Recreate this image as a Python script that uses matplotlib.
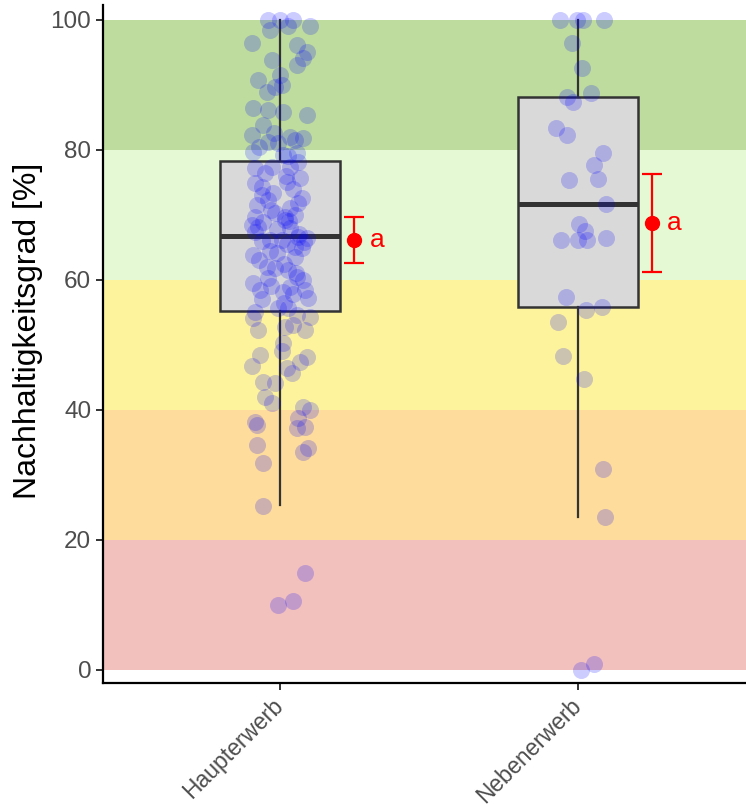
import matplotlib
matplotlib.use("Agg")
import matplotlib.pyplot as plt
import matplotlib.transforms as mtransforms
import numpy as np

plt.rcParams['font.family'] = ['Liberation Sans', 'DejaVu Sans']

categories = ["Haupterwerb", "Nebenerwerb"]

# box statistics (whisker low, Q1, median, Q3, whisker high)
box_low = [25.4, 23.5]
box_q1 = [55.3, 55.8]
box_med = [66.8, 71.7]
box_q3 = [78.3, 88.2]
box_high = [100.0, 100.0]

# mean and error bar limits
means = [66.2, 68.8]
err_low = [62.6, 61.2]
err_high = [69.7, 76.3]
letters = ["a", "a"]

# rating bands (lower, upper, colour)
band_low = [0, 20, 40, 60, 80]
band_high = [20, 40, 60, 80, 100]
band_colors = ["#F2C1BE", "#FEDC9C", "#FEF39D", "#E6F9D5", "#BEDC9E"]

# individual observations (value, horizontal jitter)
haupt_values = [100, 100, 100, 98.5, 99, 99, 96.5, 96.2, 95, 94.2, 93.8, 93, 91.5, 90.8, 88.9, 89.7, 90,
                86.5, 86.2, 85.8, 85.4, 83.8, 82.3, 81.2, 82, 81.8, 81, 79.7, 79.5, 79, 77.2, 77.4, 77.4,
                75.7, 74.9, 75, 74.3, 73.4, 72.6, 71.5, 72.3, 71.1, 70.3, 69.7, 69.7,
                68.5, 68.9, 69.2, 68, 67.4, 66.6, 66.5, 66.2, 66.2, 63.8, 65.1, 64.9, 64.2, 62, 61.5, 61.8,
                60, 60.3, 59.5, 60.5, 58.5, 58.2, 58.9, 58.5, 57.2, 55.7, 55.1, 55.7, 54.6, 54.3, 54.2,
                52.3, 52.8, 53, 52.3, 50.3, 49, 48.5, 48.2, 46.7, 47.4, 46.5, 45.7, 44.3, 44.1, 42, 41.1,
                40.5, 40, 38.8, 38.2, 37.7, 37.2, 37.4, 34.6, 33.5, 34.2, 31.8, 25.2, 14.9, 10.6, 10.0,
                # partly hidden points in the dense middle
                82.6, 81.5, 80.4, 79.2, 78.1, 76.5, 76.0, 74.0, 73.0, 71.8, 70.8, 69.0, 68.2, 67.0,
                66.0, 65.5, 64.5, 63.5, 63.0, 62.5, 61.0, 59.0, 57.8, 57.0, 56.5, 70.0, 67.8, 65.8]
haupt_jitter = [-0.04, 0.0, 0.044, -0.034, 0.027, 0.1, -0.094, 0.057, 0.09, 0.077, -0.027, 0.057, 0.0,
                -0.074, -0.044, -0.017, 0.007, -0.09, -0.04, 0.01, 0.09, -0.057, -0.094, -0.04, 0.034,
                0.077, -0.007, -0.09, 0.057, 0.027, -0.084, -0.027, 0.034, 0.067, -0.084, 0.023, -0.06,
                -0.023, 0.074, -0.077, -0.04, 0.034, -0.017, -0.084, 0.017,
                -0.094, -0.057, 0.017, 0.034, -0.084, 0.06, 0.09, -0.034, 0.007, -0.09, 0.05, 0.074,
                -0.01, -0.044, 0.027, -0.017, 0.077, -0.04, -0.09, 0.057, -0.067, 0.01, 0.034, 0.084,
                0.094, -0.007, -0.084, 0.027, 0.057, 0.1, -0.09,
                -0.074, 0.017, 0.044, 0.084, 0.01, 0.007, -0.067, 0.09, -0.094, 0.067, 0.023, 0.04,
                -0.057, -0.017, -0.05, -0.027, 0.077, 0.1, 0.06, -0.084, -0.077, 0.057, 0.084, -0.077,
                0.077, 0.094, -0.057, -0.057, 0.084, 0.044, -0.007,
                -0.02, 0.05, -0.07, 0.01, 0.06, -0.05, 0.02, 0.045, -0.06, 0.06, -0.03, 0.03, -0.075,
                0.065, -0.06, 0.025, -0.035, 0.05, -0.07, 0.015, 0.055, -0.03, 0.045, -0.06, 0.015,
                0.05, -0.01, 0.08]
neben_values = [100, 100, 100, 100, 96.5, 92.6, 88.8, 88.2, 87.4, 83.4, 82.3, 79.5, 77.7, 75.5, 75.4,
                71.7, 68.6, 67.5, 66.2, 66.2, 66.2, 66.5, 57.4, 55.4, 55.8, 53.5, 48.3, 44.8, 30.9, 23.5,
                0.0, 0.9]
neben_jitter = [-0.06, -0.003, 0.017, 0.087, -0.02, 0.013, 0.044, -0.037, -0.017, -0.074, -0.037, 0.084,
                0.054, 0.067, -0.03, 0.094, 0.003, 0.023, -0.057, 0.0, 0.03, 0.094, -0.04, 0.027, 0.081,
                -0.067, -0.05, 0.02, 0.084, 0.091, 0.01, 0.054]

fig = plt.figure(figsize=(7.46, 8.07), dpi=100)
ax = fig.add_axes([103 / 746, 124 / 807, 643 / 746, 678 / 807])

ax.set_xlim(0.406, 2.564)
ax.set_ylim(-2, 102.3)

for lo, hi, c in zip(band_low, band_high, band_colors):
    ax.axhspan(lo, hi, color=c, lw=0, zorder=0)

positions = np.arange(1, len(categories) + 1)
stats = []
for i, name in enumerate(categories):
    stats.append(dict(label=name, whislo=box_low[i], q1=box_q1[i], med=box_med[i],
                      q3=box_q3[i], whishi=box_high[i], fliers=[]))
ax.bxp(stats, positions=positions, widths=0.4, showfliers=False, showcaps=False,
       patch_artist=True,
       boxprops=dict(facecolor="#D9D9D9", edgecolor="#333333", linewidth=1.8),
       medianprops=dict(color="#333333", linewidth=3.6),
       whiskerprops=dict(color="#333333", linewidth=1.6), zorder=2)

for pos, vals, jit in [(1, haupt_values, haupt_jitter), (2, neben_values, neben_jitter)]:
    ax.scatter(pos + np.array(jit), vals, s=150, color="#0000FF", alpha=0.2, lw=0, zorder=3)

mean_x = positions + 0.25
ax.errorbar(mean_x, means,
            yerr=[np.array(means) - np.array(err_low), np.array(err_high) - np.array(means)],
            fmt="o", color="#FF0000", ms=10, elinewidth=1.6, capsize=7, capthick=1.6, zorder=4)
for x, m, t in zip(mean_x, means, letters):
    ax.text(x + 0.05, m, t, color="#FF0000", fontsize=19, va="center", ha="left", zorder=5)

ax.set_yticks([0, 20, 40, 60, 80, 100])
ax.set_xticks(positions)
ax.set_xticklabels(categories, rotation=45, ha="right", rotation_mode="anchor")
ax.tick_params(axis="both", colors="#333333", labelcolor="#4D4D4D", labelsize=17.5,
               width=1.4, length=5)
ax.tick_params(axis="x", pad=6, labelsize=16.5)
shift = mtransforms.ScaledTranslation(-8 / 100, 4 / 100, fig.dpi_scale_trans)
for lab in ax.get_xticklabels():
    lab.set_transform(lab.get_transform() + shift)
ax.set_ylabel("Nachhaltigkeitsgrad [%]", fontsize=23, color="black")
ax.yaxis.set_label_coords(-0.093, 0.52)

for s in ["top", "right"]:
    ax.spines[s].set_visible(False)
for s in ["left", "bottom"]:
    ax.spines[s].set_linewidth(1.6)
    ax.spines[s].set_color("black")

fig.savefig("out.png", dpi=100)
